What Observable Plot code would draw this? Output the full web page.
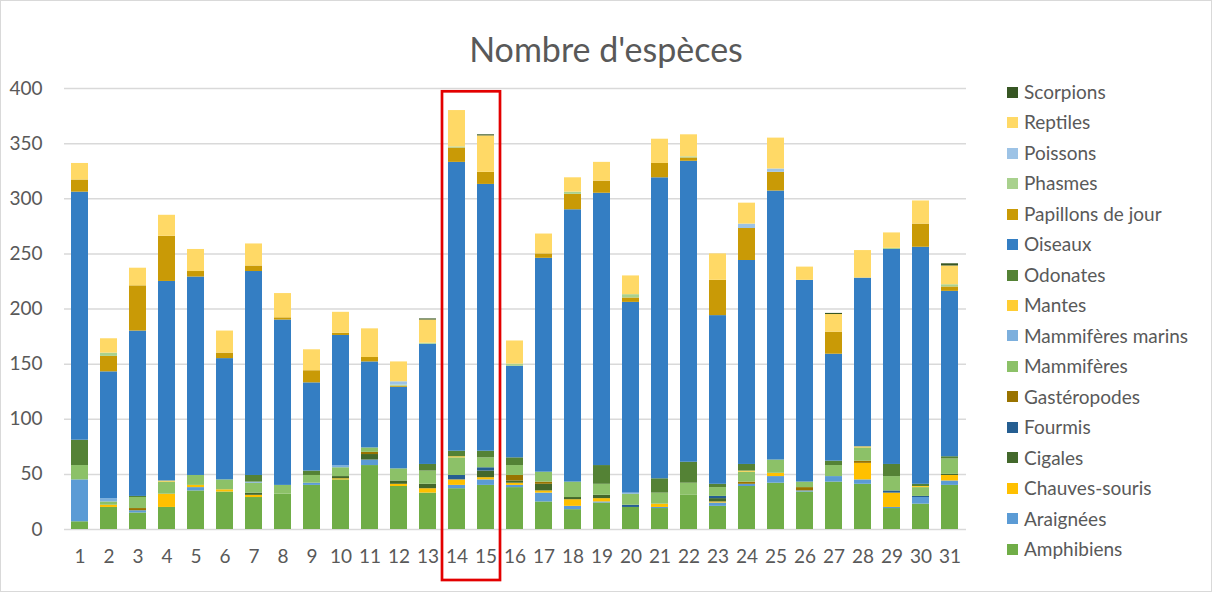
<!DOCTYPE html>
<html>
<head>
<meta charset="utf-8">
<script src="https://cdn.jsdelivr.net/npm/d3@7"></script>
<script src="https://cdn.jsdelivr.net/npm/@observablehq/plot@0.6"></script>
<style>
  html, body { margin: 0; padding: 0; background: #fff; }
  #wrap { position: relative; width: 1212px; height: 592px; box-sizing: border-box; border: 1px solid #d9d9d9; font-family: Lato, "Noto Sans", sans-serif; color: #595959; overflow: hidden; }
  #title { height: 75px; box-sizing: border-box; padding-top: 31px; text-align: center; font-size: 34px; line-height: 34px; color: #595959; }
  #chart { position: absolute; left: 0; top: 75px; }
  #legend { position: absolute; left: 1006px; top: 76px; font-size: 19px; }
  .item { height: 30.47px; line-height: 30.47px; white-space: nowrap; display: flex; align-items: center; }
  .sw { width: 11px; height: 11px; margin-right: 6px; flex: none; }
</style>
</head>
<body>
<div id="wrap">
  <div id="title">Nombre d'espèces</div>
  <div id="chart"></div>
  <div id="legend"></div>
</div>
<script>
const sites = d3.range(1, 32).map(String);
const highlighted = ["14", "15"];
const seriesNames = ["Amphibiens","Araignées","Chauves-souris","Cigales","Fourmis","Gastéropodes","Mammifères","Mammifères marins","Mantes","Odonates","Oiseaux","Papillons de jour","Phasmes","Poissons","Reptiles","Scorpions"];
const seriesColors = ["#70AD47","#5B9BD5","#FFC000","#43682B","#255E91","#997300","#8CC168","#7CAFDD","#FFCD33","#548235","#347EC3","#C99A06","#A9D18E","#9DC3E6","#FFD966","#375623"];

const amphibiens   = [7,20,15,20,35,34,29,32,40,45,58,39,33,37,40,38,25,18,24,20,19,31,21,39,42,34,43,41,19,23,40];
const araignees    = [38,0,2,0,3,0,0,0,2,0,5,0,0,3,5,2,8,3,1,0,1,0,3,2,6,1,5,4,1,6,4];
const chauvesSouris= [0,2,0,12,2,2,2,0,0,1,0,2,4,5,2,2,2,6,3,0,3,0,1,0,3,0,0,15,13,0,5];
const cigales      = [0,0,0,0,0,0,2,0,0,2,5,3,4,0,6,2,6,2,3,0,0,0,3,0,0,0,0,0,0,0,1];
const fourmis      = [0,0,0,0,0,0,0,0,0,0,0,0,0,4,3,0,0,0,0,2,0,0,2,0,0,0,0,0,2,1,0];
const gasteropodes = [0,0,2,0,0,0,0,0,0,0,2,0,0,0,0,5,2,0,0,0,0,0,0,2,0,3,0,2,0,0,0];
const mammiferes   = [13,3,10,11,9,9,9,8,7,8,4,11,12,16,9,9,9,14,10,10,10,11,8,9,12,5,10,12,13,8,14];
const mammMarins   = [0,3,0,0,0,0,1,0,0,2,0,0,0,0,0,0,0,0,0,1,0,0,0,0,0,0,0,0,0,0,0];
const mantes       = [0,0,0,1,0,0,0,0,0,0,0,0,0,1,0,0,0,0,0,0,0,0,0,1,0,0,0,1,0,1,0];
const odonates     = [23,0,1,0,0,0,6,0,4,0,0,0,6,5,6,7,0,0,17,0,13,19,3,6,0,0,4,0,11,2,2];
const oiseaux      = [225,115,150,181,180,110,185,150,80,118,78,74,109,262,242,83,194,247,247,173,273,273,153,185,244,183,97,153,195,215,150];
const papillons    = [11,14,41,41,5,5,5,2,11,2,4,1,0,13,11,0,4,14,11,4,13,3,32,29,17,0,20,0,0,21,4];
const phasmes      = [0,3,0,0,0,0,0,0,0,0,0,1,1,1,0,2,0,2,0,3,0,1,0,0,0,0,0,0,1,0,2];
const poissons     = [0,0,0,0,0,0,0,0,0,0,0,3,0,0,0,0,0,0,0,0,0,0,0,4,3,0,0,0,0,0,0];
const reptiles     = [15,13,16,19,20,20,20,22,19,19,26,18,21,33,33,21,18,13,17,17,22,20,24,19,28,12,16,25,14,21,17];
const scorpions    = [0,0,0,0,0,0,0,0,0,0,0,0,1,0,1,0,0,0,0,0,0,0,0,0,0,0,1,0,0,0,2];

const yTicks = [0,50,100,150,200,250,300,350,400];

const seriesValues = [amphibiens,araignees,chauvesSouris,cigales,fourmis,gasteropodes,mammiferes,mammMarins,mantes,odonates,oiseaux,papillons,phasmes,poissons,reptiles,scorpions];
const rows = [];
seriesNames.forEach((name, i) => {
  sites.forEach((s, j) => rows.push({site: s, espece: name, valeur: seriesValues[i][j]}));
});

const W = 990, H = 510;
const chart = Plot.plot({
  width: W,
  height: H,
  marginLeft: 63,
  marginRight: 25,
  marginTop: 12,
  marginBottom: 57,
  style: {fontFamily: "Lato, 'Noto Sans', sans-serif", background: "transparent"},
  x: {domain: sites, paddingInner: 0.4, paddingOuter: 0.2, label: null},
  y: {domain: [0, 400], label: null},
  color: {domain: seriesNames, range: seriesColors},
  marks: [
    Plot.ruleY(yTicks, {stroke: "#d9d9d9", strokeWidth: 1.5}),
    Plot.barY(rows, {x: "site", y: "valeur", fill: "espece", order: seriesNames}),
    Plot.axisY({ticks: yTicks, tickSize: 0, tickPadding: 22, fontSize: 19, fill: "#595959", label: null}),
    Plot.axisX({tickSize: 0, tickPadding: 20, fontSize: 19, fill: "#595959", label: null})
  ]
});
document.getElementById("chart").appendChild(chart);

// highlight box around the selected sites, derived from the chart's own scales
const xs = chart.scale("x"), ys = chart.scale("y");
const gap = xs.step - xs.bandwidth;
const x0 = xs.apply(highlighted[0]) - gap / 2;
const x1 = xs.apply(highlighted[highlighted.length - 1]) + xs.bandwidth + gap / 2;
const yTop = ys.apply(397);
const yBot = H - 6;
d3.select(chart).append("rect")
  .attr("x", x0).attr("y", yTop)
  .attr("width", x1 - x0).attr("height", yBot - yTop)
  .attr("fill", "none").attr("stroke", "#E30000").attr("stroke-width", 2.7);

const legend = document.getElementById("legend");
seriesNames.slice().reverse().forEach(name => {
  const i = seriesNames.indexOf(name);
  const it = document.createElement("div");
  it.className = "item";
  it.innerHTML = `<span class="sw" style="background:${seriesColors[i]}"></span><span>${name}</span>`;
  legend.appendChild(it);
});
</script>
</body>
</html>
